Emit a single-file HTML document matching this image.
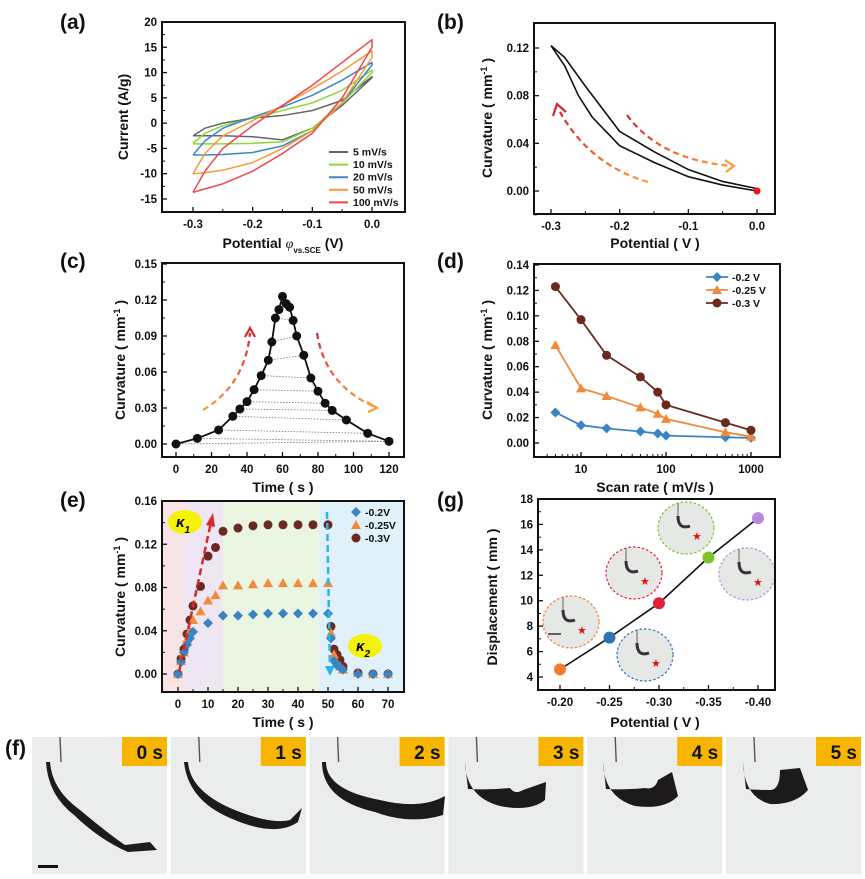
<!DOCTYPE html>
<html><head><meta charset="utf-8">
<style>
html,body{margin:0;padding:0;background:#fff}
svg{display:block;font-family:"Liberation Sans",Arial,sans-serif}
.tk{font-size:11.5px;font-weight:bold;fill:#111}
.at{font-size:14px;font-weight:bold;fill:#111}
.pl{font-size:21px;font-weight:bold;fill:#111}
.lg{font-size:10.5px;font-weight:bold;fill:#111}
</style></head>
<body>
<svg id="fig" width="865" height="879" viewBox="0 0 865 879">
<defs>
<linearGradient id="gL" x1="1" y1="1" x2="0" y2="0"><stop offset="0" stop-color="#ff9a3a"/><stop offset="1" stop-color="#d9262a"/></linearGradient>
<linearGradient id="gR" x1="0" y1="0" x2="1" y2="1"><stop offset="0" stop-color="#d9262a"/><stop offset="1" stop-color="#ff9a3a"/></linearGradient>
<linearGradient id="gC" x1="0" y1="1" x2="0" y2="0"><stop offset="0" stop-color="#ff9a3a"/><stop offset="1" stop-color="#d9262a"/></linearGradient>
<linearGradient id="gD" x1="0" y1="0" x2="0" y2="1"><stop offset="0" stop-color="#d9262a"/><stop offset="1" stop-color="#ff9a3a"/></linearGradient>
</defs>
</svg>
<script>
// ---------- Panel (a) data ----------
const aSeries = ["5 mV/s","10 mV/s","20 mV/s","50 mV/s","100 mV/s"];
const aColors = ["#666666","#8fd838","#3d86c6","#f59a36","#f0444a"];
const aX = [-0.3,-0.28,-0.25,-0.2,-0.15,-0.1,-0.05,0];
const aUp5 = [-2.5,-1,0,1,1.5,2.5,4.5,9.2];
const aUp10 = [-4,-2,-0.5,1,2.5,4,6.5,10.5];
const aUp20 = [-6.3,-3.5,-1,1.2,3.2,5.5,8.5,12];
const aUp50 = [-10,-6,-2.5,0.5,3.5,6.8,10.3,14.3];
const aUp100 = [-13.7,-9.5,-5,-0.5,3.5,7.5,12,16.5];
const aLo5 = [-2.5,-2.5,-2.5,-2.7,-3.3,-1,3.5,9];
const aLo10 = [-4.1,-4.1,-4.1,-4,-3.7,-1,4,10];
const aLo20 = [-6.3,-6.3,-6.2,-5.8,-4.5,-1.5,4,11.5];
const aLo50 = [-10,-9.8,-9.3,-7.8,-5,-1.5,4,13];
const aLo100 = [-13.7,-13,-12,-9.5,-6,-2,5,15];
const aYTicks = [20,15,10,5,0,-5,-10,-15];
const aXTicks = [-0.3,-0.2,-0.1,0.0];
// ---------- Panel (b) data ----------
const bXUp = [-0.3,-0.28,-0.25,-0.2,-0.15,-0.1,-0.05,0];
const bYUp = [0.122,0.112,0.088,0.05,0.033,0.018,0.008,0.002];
const bXLo = [-0.3,-0.28,-0.26,-0.24,-0.2,-0.15,-0.1,-0.05,0];
const bYLo = [0.122,0.105,0.080,0.062,0.038,0.024,0.012,0.005,0];
const bYTicks = [0.12,0.08,0.04,0.00];
const bXTicks = [-0.3,-0.2,-0.1,0.0];
// ---------- Panel (c) data ----------
const cT = [0,12,24,32,36,40,44,48,52,54,56,58,60,62,64,66,68,72,76,80,84,88,96,108,120];
const cK = [0,0.0047,0.0117,0.0231,0.0292,0.0353,0.0453,0.057,0.0698,0.085,0.105,0.112,0.123,0.117,0.114,0.103,0.090,0.074,0.055,0.044,0.034,0.028,0.020,0.0089,0.0022];
const cYTicks = [0.15,0.12,0.09,0.06,0.03,0.00];
const cXTicks = [0,20,40,60,80,100,120];
// ---------- Panel (d) data ----------
const dRate = [5,10,20,50,80,100,500,1000];
const dS02 = [0.024,0.014,0.0115,0.009,0.0075,0.0058,0.0045,0.004];
const dS025 = [0.077,0.043,0.037,0.028,0.023,0.019,0.0085,0.005];
const dS03 = [0.123,0.097,0.069,0.052,0.040,0.030,0.016,0.010];
const dYTicks = [0.14,0.12,0.10,0.08,0.06,0.04,0.02,0.00];
const dXTicks = [10,100,1000];
// ---------- Panel (e) data ----------
const eT02 = [0,1,2,3,4,5,10,15,20,25,30,35,40,45,50,51,52,53,54,55,60,65,70];
const eK02 = [0,0.011,0.02,0.027,0.033,0.039,0.047,0.054,0.054,0.055,0.056,0.056,0.056,0.056,0.056,0.033,0.012,0.008,0.006,0.004,0,0,0];
const eT025 = [0,1,2,3,4,5,7.5,10,12.5,15,20,25,30,35,40,45,50,51,52,53,54,55,60,65,70];
const eK025 = [0,0.012,0.02,0.032,0.04,0.05,0.058,0.068,0.073,0.082,0.082,0.083,0.084,0.084,0.084,0.084,0.084,0.038,0.018,0.01,0.007,0.004,0.001,0,0];
const eT03 = [0,1,2,3,4,5,7.5,10,12.5,15,20,25,30,35,40,45,50,51,52,53,54,55,60,65,70];
const eK03 = [0,0.014,0.023,0.037,0.05,0.063,0.081,0.109,0.117,0.132,0.135,0.137,0.138,0.138,0.138,0.138,0.138,0.044,0.023,0.018,0.013,0.007,0.001,0,0];
const eYTicks = [0.16,0.12,0.08,0.04,0.00];
const eXTicks = [0,10,20,30,40,50,60,70];
// ---------- Panel (g) data ----------
const gV = [-0.20,-0.25,-0.30,-0.35,-0.40];
const gD = [4.6,7.1,9.8,13.4,16.5];
const gColors = ["#f47c2c","#2f74b5","#e0203a","#7cc42a","#b88be0"];
const gYTicks = [18,16,14,12,10,8,6,4];
const gXTicks = [-0.20,-0.25,-0.30,-0.35,-0.40];
// ---------- Panel (f) labels ----------
const fLabels = ["0 s","1 s","2 s","3 s","4 s","5 s"];

const NS="http://www.w3.org/2000/svg";
const svg=document.getElementById('fig');
function E(tag,attrs,parent,text){const e=document.createElementNS(NS,tag);for(const k in attrs)e.setAttribute(k,attrs[k]);if(text!==undefined)e.textContent=text;(parent||svg).appendChild(e);return e;}
function lin(d0,d1,r0,r1){return v=>r0+(v-d0)*(r1-r0)/(d1-d0);}
function frame(g,x0,y0,x1,y1,xs,ys,xt,yt,xfmt,yfmt,minorX,minorY){
  yt.forEach(v=>{const y=ys(v);
    const t=E('line',{x1:x0,y1:y,x2:x0+5,y2:y,stroke:'#111','stroke-width':1.3},g);
    
    const l=E('text',{x:x0-5,y:y+4,'text-anchor':'end',class:'tk'},g,yfmt(v));
    });
  xt.forEach(v=>{const x=xs(v);
    const t=E('line',{x1:x,y1:y1,x2:x,y2:y1-5,stroke:'#111','stroke-width':1.3},g);
    
    const l=E('text',{x:x,y:y1+16,'text-anchor':'middle',class:'tk'},g,xfmt(v));
    });
  (minorY||[]).forEach(v=>{const y=ys(v);E('line',{x1:x0,y1:y,x2:x0+3,y2:y,stroke:'#111','stroke-width':1},g);});
  (minorX||[]).forEach(v=>{const x=xs(v);E('line',{x1:x,y1:y1,x2:x,y2:y1-3,stroke:'#111','stroke-width':1},g);});
  const r=E('rect',{x:x0,y:y0,width:x1-x0,height:y1-y0,fill:'none',stroke:'#111','stroke-width':2},g);
  
}
function ytitle(g,x,y,parts){const t=E('text',{x:0,y:0,transform:`translate(${x},${y}) rotate(-90)`,'text-anchor':'middle',class:'at'},g);
  
  parts.forEach(p=>{E('tspan',p.a||{},t,p.s);});return t;}
function xtitle(g,x,y,txt){const t=E('text',{x:x,y:y,'text-anchor':'middle',class:'at'},g,txt);
  return t;}
function plabel(txt,x,y){const t=E('text',{x:x,y:y,class:'pl'},svg,txt);}
function poly(g,xs,ys,X,Y,attrs){return E('polyline',Object.assign({points:X.map((v,i)=>xs(v)+','+ys(Y[i])).join(' '),fill:'none'},attrs),g);}
const f2=v=>v.toFixed(2), f1=v=>v.toFixed(1), f0=v=>String(v);
const curvParts=[{s:'Curvature ( mm'},{s:'-1',a:{'baseline-shift':'super','font-size':'9px'}},{s:' )'}];

// ===== (a) =====
plabel('(a)',60,29);
{const g=E('g',{});
 const xs=lin(-0.3,0,193,372), ys=lin(20,-15,22,199);
 const ups=[aUp5,aUp10,aUp20,aUp50,aUp100], los=[aLo5,aLo10,aLo20,aLo50,aLo100];
 ups.forEach((u,i)=>{const X=aX.concat(aX.slice().reverse()),Y=u.concat(los[i].slice().reverse());
   const p=poly(g,xs,ys,X,Y,{stroke:aColors[i],'stroke-width':1.5,'stroke-linejoin':'round'});
   });
 frame(g,162,22,405,212,xs,ys,aXTicks,aYTicks,f1,f0,[-0.25,-0.15,-0.05],[17.5,12.5,7.5,2.5,-2.5,-7.5,-12.5]);
 aSeries.forEach((s,i)=>{const y=152+i*12.6;
   const l=E('line',{x1:329,y1:y,x2:348,y2:y,stroke:aColors[i],'stroke-width':2},g);
   
   const t=E('text',{x:353,y:y+3.5,class:'lg'},g,s);});
 ytitle(g,128,117,[{s:'Current (A/g)'}]);
 const t=E('text',{x:283,y:248,'text-anchor':'middle',class:'at'},g);
 
 E('tspan',{},t,'Potential ');E('tspan',{'font-style':'italic','font-weight':'normal','font-family':'Liberation Serif'},t,'φ');
 E('tspan',{'font-size':'8px','baseline-shift':'sub'},t,'vs.SCE');E('tspan',{},t,' (V)');
}
// ===== (b) =====
plabel('(b)',437,29);
{const g=E('g',{});
 const xs=lin(-0.3,0,551,757), ys=lin(0.12,0,48,191);
 let p=poly(g,xs,ys,bXUp,bYUp,{stroke:'#111','stroke-width':1.6});
 p=poly(g,xs,ys,bXLo,bYLo,{stroke:'#111','stroke-width':1.6});
 const d=E('circle',{cx:xs(0),cy:ys(0),r:3.5,fill:'#f01010'},g);
 let a=E('path',{d:'M648,182 Q590,165 560,112',fill:'none',stroke:'url(#gL)','stroke-width':2.2,'stroke-dasharray':'6,4'},g);
 E('path',{d:'M553,116 L557,104 L566,112',fill:'none',stroke:'#d9262a','stroke-width':2.2},g);
 a=E('path',{d:'M627,115 Q660,160 732,166',fill:'none',stroke:'url(#gR)','stroke-width':2.2,'stroke-dasharray':'6,4'},g);
 E('path',{d:'M725,160 L734,166 L726,172',fill:'none',stroke:'#ff9a3a','stroke-width':2.2},g);
 frame(g,534,23,775,214,xs,ys,bXTicks,bYTicks,f1,f2,[-0.25,-0.15,-0.05],[0.1,0.06,0.02,-0.02]);
 ytitle(g,492,118,curvParts);xtitle(g,655,248,'Potential ( V )');
}
// ===== (c) =====
plabel('(c)',60,268);
{const g=E('g',{});
 const xs=lin(0,120,176,389), ys=lin(0.15,0,264,444);
 const pk=cK.indexOf(Math.max(...cK));
 for(let i=1;i<pk;i++){const j=cT.length-i; if(j<=pk)break;
   const l=E('line',{x1:xs(cT[i]),y1:ys(cK[i]),x2:xs(cT[j]),y2:ys(cK[j]),stroke:'#777','stroke-width':0.8,'stroke-dasharray':'1.5,1.5'},g);
   }
 E('line',{x1:xs(cT[0]),y1:ys(cK[0]),x2:xs(cT[cT.length-1]),y2:ys(cK[cK.length-1]),stroke:'#777','stroke-width':0.8,'stroke-dasharray':'1.5,1.5'},g);
 const p=poly(g,xs,ys,cT,cK,{stroke:'#111','stroke-width':1.8});
 cT.forEach((t,i)=>{const c=E('circle',{cx:xs(t),cy:ys(cK[i]),r:4.5,fill:'#111'},g);});
 let a=E('path',{d:'M203,410 Q245,385 250,333',fill:'none',stroke:'url(#gC)','stroke-width':2.2,'stroke-dasharray':'6,4'},g);
 E('path',{d:'M245,337 L250,328 L255,337',fill:'none',stroke:'#d9262a','stroke-width':2.2},g);
 a=E('path',{d:'M317,333 Q325,385 375,407',fill:'none',stroke:'url(#gD)','stroke-width':2.2,'stroke-dasharray':'6,4'},g);
 E('path',{d:'M367,402 L377,408 L368,412',fill:'none',stroke:'#ff9a3a','stroke-width':2.2},g);
 frame(g,162,263,404,457,xs,ys,cXTicks,cYTicks,f0,f2,[10,30,50,70,90,110],[0.135,0.105,0.075,0.045,0.015]);
 ytitle(g,125,360,curvParts);xtitle(g,283,492,'Time ( s )');
}
// ===== (d) =====
plabel('(d)',437,268);
{const g=E('g',{});
 const lx=lin(1,3,581,751), xs=v=>lx(Math.log10(v)), ys=lin(0.14,0,265,443);
 const ser=[[dS02,'#3b84c4','d','-0.2 V'],[dS025,'#f08a3c','t','-0.25 V'],[dS03,'#6b2a20','c','-0.3 V']];
 function mark(x,y,type,col,name){let m;
   if(type==='d')m=E('path',{d:`M${x},${y-5}L${x+5},${y}L${x},${y+5}L${x-5},${y}Z`,fill:col},g);
   else if(type==='t')m=E('path',{d:`M${x},${y-5}L${x+5},${y+4}L${x-5},${y+4}Z`,fill:col},g);
   else m=E('circle',{cx:x,cy:y,r:4.5,fill:col},g);
   }
 ser.forEach(s=>{const p=poly(g,xs,ys,dRate,s[0],{stroke:s[1],'stroke-width':1.8});
   dRate.forEach((r,i)=>mark(xs(r),ys(s[0][i]),s[2],s[1],'data-point'));});
 ser.forEach((s,i)=>{const y=277+i*13;E('line',{x1:706,y1:y,x2:728,y2:y,stroke:s[1],'stroke-width':1.8},g);mark(717,y,s[2],s[1],'legend-marker');
   const t=E('text',{x:732,y:y+4,class:'lg'},g,s[3]);});
 const minor=[];[1,10,100].forEach(b=>[2,3,4,5,6,7,8,9].forEach(k=>{if(b*k>=4&&b*k<=1500)minor.push(b*k);}));
 frame(g,534,264,780,457,xs,ys,dXTicks,dYTicks,f0,f2,minor,[0.13,0.11,0.09,0.07,0.05,0.03,0.01]);
 ytitle(g,492,360,curvParts);xtitle(g,655,492,'Scan rate ( mV/s )');
}
// ===== (e) =====
plabel('(e)',60,507);
{const g=E('g',{});
 const xs=lin(0,70,178,388), ys=lin(0.16,0,501,674);
 const bands=[[162,184,'#f8e4e4','phase-bg-1'],[184,223,'#efe6f4','phase-bg-2'],[223,319,'#eaf6e2','phase-bg-3'],[319,404,'#e0f1fa','phase-bg-4']];
 bands.forEach(b=>{const r=E('rect',{x:b[0],y:501,width:b[1]-b[0],height:191,fill:b[2]},g);});
 const ser=[[eT02,eK02,'#3b84c4','d','-0.2V'],[eT025,eK025,'#f08a3c','t','-0.25V'],[eT03,eK03,'#6b2a20','c','-0.3V']];
 function mark(x,y,type,col,name){let m;
   if(type==='d')m=E('path',{d:`M${x},${y-5}L${x+5},${y}L${x},${y+5}L${x-5},${y}Z`,fill:col},g);
   else if(type==='t')m=E('path',{d:`M${x},${y-5}L${x+5},${y+4}L${x-5},${y+4}Z`,fill:col},g);
   else m=E('circle',{cx:x,cy:y,r:4.5,fill:col},g);
   }
 ser.slice().reverse().forEach(s=>s[0].forEach((t,i)=>mark(xs(t),ys(s[1][i]),s[3],s[2],'data-point')));
 let a=E('line',{x1:179,y1:672,x2:211,y2:522,stroke:'#d42a2a','stroke-width':2.5,'stroke-dasharray':'7,4'},g);
 E('path',{d:'M206,525 L213,513 L215,527Z',fill:'#d42a2a'},g);
 a=E('line',{x1:327,y1:512,x2:330,y2:668,stroke:'#2bb4e8','stroke-width':2.5,'stroke-dasharray':'7,4'},g);
 E('path',{d:'M325,666 L330,676 L335,666Z',fill:'#2bb4e8'},g);
 [[185,522,'1','k1-badge'],[365,646,'2','k2-badge']].forEach(k=>{E('ellipse',{cx:k[0],cy:k[1],rx:17,ry:12,fill:'#f5f20a'},g);
   const t=E('text',{x:k[0]-9,y:k[1]+5,'font-size':'15px','font-weight':'bold','font-style':'italic'},g);
   
   E('tspan',{},t,'κ');E('tspan',{'font-size':'10px','baseline-shift':'sub'},t,k[2]);});
 ser.forEach((s,i)=>{const y=512+i*13;mark(356,y,s[3],s[2],'legend-marker');
   const t=E('text',{x:365,y:y+4,class:'lg'},g,s[4]);});
 frame(g,162,501,404,692,xs,ys,eXTicks,eYTicks,f0,f2,[5,15,25,35,45,55,65],[0.14,0.1,0.06,0.02]);
 ytitle(g,125,597,curvParts);xtitle(g,283,727,'Time ( s )');
}
// ===== (g) =====
plabel('(g)',437,507);
{const g=E('g',{});
 const xs=lin(-0.2,-0.4,560,758), ys=lin(18,4,499,677);
 const p=poly(g,xs,ys,gV,gD,{stroke:'#111','stroke-width':1.6});
 const insets=[[571,622,'#f47c2c'],[645,655,'#2f74b5'],[634,573,'#e0203a'],[686,528,'#7cc42a'],[747,574,'#b88be0']];
 insets.forEach((c,i)=>{const e=E('ellipse',{cx:c[0],cy:c[1],rx:28,ry:26,fill:'#e6e8e6',stroke:c[2],'stroke-width':1.2,'stroke-dasharray':'2.5,2'},g);
   
   E('line',{x1:c[0]-8,y1:c[1]-25,x2:c[0]-8,y2:c[1]-12,stroke:'#666','stroke-width':1},g);
   E('path',{d:`M${c[0]-8},${c[1]-12} q0,14 12,10`,fill:'none',stroke:'#333','stroke-width':3},g);
   const s=E('text',{x:c[0]+6,y:c[1]+12,'font-size':'11px',fill:'#e01010'},g,'★');});
 E('line',{x1:548,y1:634,x2:561,y2:634,stroke:'#333','stroke-width':1.5},g);
 gV.forEach((v,i)=>{const c=E('circle',{cx:xs(v),cy:ys(gD[i]),r:6,fill:gColors[i]},g);});
 frame(g,538,499,775,690,xs,ys,gXTicks,gYTicks,f2,f0,[-0.225,-0.275,-0.325,-0.375],[17,15,13,11,9,7,5]);
 ytitle(g,497,597,[{s:'Displacement ( mm )'}]);xtitle(g,655,727,'Potential ( V )');
}
// ===== (f) =====
plabel('(f)',5,755);
{const g=E('g',{});
 const strips=['M50,762 Q52,790 80,810 Q110,835 125,845 L150,842 L157,850 L128,852 Q100,840 74,815 Q48,795 46,762Z',
  'M188,762 Q190,790 230,808 Q270,825 290,820 L302,808 L298,822 Q275,838 230,818 Q188,800 184,762Z',
  'M326,762 Q326,790 380,800 Q420,810 445,796 L443,815 Q410,825 375,812 Q322,800 322,762Z',
  'M465,762 Q466,797 500,806 Q530,812 545,800 L546,782 L523,790 Q515,795 510,788 Q490,790 468,789Z',
  'M603,762 Q604,797 635,806 Q665,810 678,796 L672,772 L658,780 Q655,790 645,788 Q625,790 606,789Z',
  'M743,762 Q744,797 770,804 Q795,805 808,790 L800,768 L780,770 Q780,790 770,790 Q755,790 746,789Z'];
 fLabels.forEach((lb,i)=>{const x=32+i*138.8;
   const r=E('rect',{x:x,y:737,width:135,height:137,fill:'#ebecec'},g);
   E('line',{x1:x+28,y1:737,x2:x+29,y2:762,stroke:'#555','stroke-width':1.4},g);
   const s=E('path',{d:strips[i],fill:'#1c1a1a'},g);
   E('rect',{x:x+90,y:737,width:45,height:29,fill:'#f7b500'},g);
   const t=E('text',{x:x+131,y:759,'text-anchor':'end','font-size':'19px','font-weight':'bold',fill:'#111'},g,lb);
   });
 E('rect',{x:38,y:865,width:20,height:3,fill:'#111'},g);
}
</script>
</body></html>
